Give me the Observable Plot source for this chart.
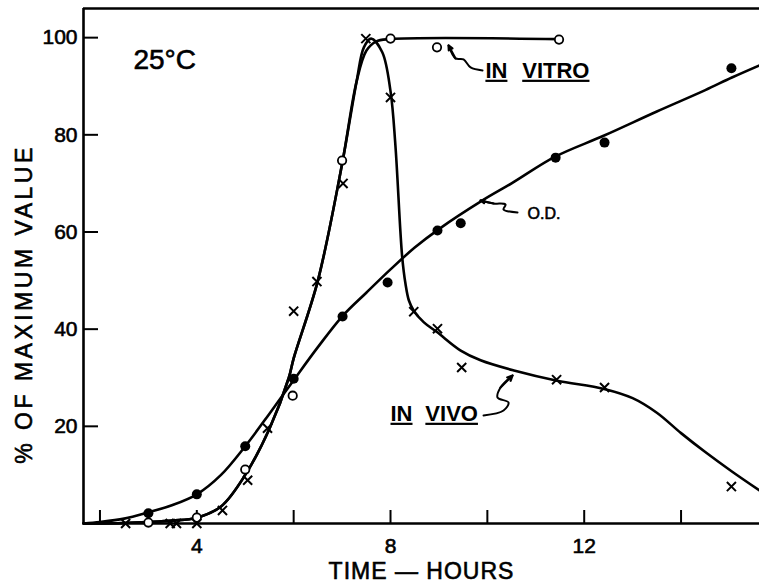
<!DOCTYPE html>
<html><head><meta charset="utf-8">
<script src="https://cdn.jsdelivr.net/npm/d3@7"></script>
<script src="https://cdn.jsdelivr.net/npm/@observablehq/plot@0.6"></script>
<style>html,body{margin:0;padding:0;background:#fff}#chart svg{display:block}</style>
</head><body><div id="chart"></div>
<script>
// ---- measured points ----
const odT = [3.0, 4.0, 5.0, 6.0, 7.01, 7.94, 8.97, 9.45, 11.41, 12.42, 15.04];
const odV = [2.1, 6.0, 15.9, 29.8, 42.6, 49.6, 60.3, 61.8, 75.3, 78.4, 93.7];
const vitroT = [3.0, 4.0, 5.0, 5.98, 7.0, 8.0, 8.96, 11.48];
const vitroV = [0.2, 1.2, 11.1, 26.3, 74.7, 99.8, 98.0, 99.6];
const vivoT = [2.53, 3.45, 3.58, 4.0, 4.53, 5.05, 5.46, 6.0, 6.48, 7.02, 7.49, 8.0, 8.48, 8.97, 9.47, 11.43, 12.42, 15.04];
const vivoV = [0.0, 0.0, 0.0, 0.0, 2.7, 8.9, 19.6, 43.7, 49.8, 70.0, 99.8, 87.7, 43.6, 40.1, 32.1, 29.6, 28.0, 7.6];

// ---- hand-drawn fitted curves ----
const odCurveT = [1.66, 2.0, 2.5, 3.0, 3.5, 4.0, 4.5, 5.0, 5.5, 6.0, 6.5, 7.0, 7.5, 8.0, 8.5, 9.0, 9.9, 10.5, 11.4, 12.4, 13.5, 14.5, 15.05, 15.62];
const odCurveV = [0, 0.3, 1.0, 2.3, 3.8, 6.0, 10.0, 15.9, 22.6, 29.5, 36.3, 42.6, 47.5, 52.3, 56.8, 60.6, 66.5, 70.0, 75.5, 79.8, 84.8, 89.2, 91.8, 94.3];
const vivoCurveT = [1.66, 2.5, 3.0, 3.5, 4.0, 4.5, 5.0, 5.5, 5.9, 6.0, 6.5, 7.0, 7.3, 7.45, 7.6, 7.83, 8.0, 8.1, 8.24, 8.31, 8.38, 8.48, 8.69, 8.96, 9.45, 9.86, 10.55, 11.44, 12.41, 13.0, 13.5, 14.0, 14.5, 15.05, 15.62];
const vivoCurveV = [0, 0.1, 0.3, 0.6, 1.2, 3.5, 10.0, 19.5, 30.0, 34.0, 50.0, 74.0, 91.0, 98.0, 99.8, 97.0, 89.0, 78.0, 55.0, 49.3, 45.9, 43.8, 41.4, 39.4, 35.6, 33.6, 31.5, 29.4, 27.7, 25.8, 22.8, 18.6, 14.7, 10.7, 6.8];
const vitroCurveT = [1.66, 2.5, 3.0, 3.5, 4.0, 4.5, 5.0, 5.5, 5.9, 6.0, 6.5, 7.0, 7.3, 7.5, 7.7, 8.0, 11.48];
const vitroCurveV = [0, 0.1, 0.3, 0.6, 1.2, 3.5, 10.0, 19.5, 30.0, 34.0, 50.0, 74.0, 91.0, 97.3, 99.2, 99.7, 99.7];

// ---- axes ----
const xDomain = [1.66, 15.62];
const yDomain = [0, 106];
const xTicks = [2, 4, 6, 8, 10, 12, 14];
const xTickLabels = [4, 8, 12];
const yTicks = [20, 40, 60, 80, 100];
const xTitle = "TIME — HOURS";
const yTitle = "% OF MAXIMUM VALUE";

// ---- annotations ----
const tempLabel = [{t: 2.69, v: 95.3, s: "25°C"}];
const underlinedWords = [
  {t: 9.96, v: 93.2, s: "IN"}, {t: 10.72, v: 93.2, s: "VITRO"},
  {t: 8.0, v: 22.6, s: "IN"}, {t: 8.72, v: 22.6, s: "VIVO"}
];
const odLabel = [{t: 10.83, v: 63.8, s: "O.D."}];
// squiggly leader lines, tail first, tip last
const vitroLeaderT = [9.90, 9.653, 9.508, 9.343, 9.198];
const vitroLeaderV = [93.25, 93.87, 95.51, 95.72, 98.39];
const odLeaderT = [10.623, 10.334, 10.375, 10.128, 9.859];
const odLeaderV = [64.02, 64.64, 65.67, 65.87, 66.49];
const vivoLeaderT = [9.921, 10.334, 10.437, 10.210, 10.272, 10.520];
const vivoLeaderV = [22.23, 23.26, 24.91, 25.94, 27.99, 30.47];

const zip = (a, b) => a.map((d, i) => ({t: d, v: b[i]}));
const od = zip(odT, odV), vitro = zip(vitroT, vitroV), vivo = zip(vivoT, vivoV);
const odC = zip(odCurveT, odCurveV), vivoC = zip(vivoCurveT, vivoCurveV), vitroC = zip(vitroCurveT, vitroCurveV);
const leaders = [zip(vitroLeaderT, vitroLeaderV), zip(odLeaderT, odLeaderV), zip(vivoLeaderT, vivoLeaderV)];
const heads = leaders.map(L => ({t1: L[L.length - 2].t, v1: L[L.length - 2].v, t2: L[L.length - 1].t, v2: L[L.length - 1].v}));

const lineW = 2.6;
const chart = Plot.plot({
  width: 759, height: 587,
  marginLeft: 83, marginRight: 0, marginTop: 8, marginBottom: 64,
  x: {domain: xDomain},
  y: {domain: yDomain},
  style: {fontFamily: "'Liberation Sans', Arial, sans-serif", fontSize: "21px", color: "#000", background: "#fff", overflow: "visible"},
  marks: [
    Plot.ruleX([xDomain[0]], {strokeWidth: 2.6}),
    Plot.ruleY([yDomain[0]], {strokeWidth: 2.6}),
    Plot.ruleY([yDomain[1]], {strokeWidth: 2.6}),
    Plot.axisX(xTicks, {tickSize: -13, strokeWidth: 2, fill: "none", label: null}),
    Plot.axisX(xTickLabels, {tickSize: 0, tickPadding: 15, label: null, fontSize: 21, ariaDescription: "heavy"}),
    Plot.axisY(yTicks, {tickSize: -15, strokeWidth: 2, fill: "none", label: null}),
    Plot.axisY(yTicks, {tickSize: 0, tickPadding: 6, label: null, fontSize: 21, ariaDescription: "heavy"}),
    Plot.line(odC, {x: "t", y: "v", curve: "catmull-rom", strokeWidth: lineW}),
    Plot.line(vivoC, {x: "t", y: "v", curve: "catmull-rom", strokeWidth: lineW}),
    Plot.line(vitroC, {x: "t", y: "v", curve: "catmull-rom", strokeWidth: lineW}),
    Plot.dot(vitro, {x: "t", y: "v", r: 4.2, stroke: "#000", strokeWidth: 1.8, fill: "#fff"}),
    Plot.dot(od, {x: "t", y: "v", r: 5, fill: "#000", stroke: "none"}),
    Plot.dot(vivo, {x: "t", y: "v", symbol: "times", r: 4.2, stroke: "#000", strokeWidth: 2}),
    Plot.text(tempLabel, {x: "t", y: "v", text: "s", textAnchor: "start", fontSize: 28, ariaDescription: "heavy"}),
    Plot.text(underlinedWords, {x: "t", y: "v", text: "s", textAnchor: "start", fontSize: 22, fontWeight: "bold", ariaDescription: "underlined"}),
    Plot.text(odLabel, {x: "t", y: "v", text: "s", textAnchor: "start", fontSize: 16, ariaDescription: "heavy"}),
    ...leaders.map(L => Plot.line(L, {x: "t", y: "v", curve: "catmull-rom", strokeWidth: 2})),
    Plot.arrow(heads, {x1: "t1", y1: "v1", x2: "t2", y2: "v2", headLength: 9, headAngle: 50, strokeWidth: 2.2}),
    Plot.text([xTitle], {frameAnchor: "bottom", dy: 55.5, fontSize: 23, ariaDescription: "xtitle"}),
    Plot.text([yTitle], {frameAnchor: "left", textAnchor: "middle", rotate: -90, dx: -58.5, dy: 38, fontSize: 23, ariaDescription: "ytitle"})
  ]
});
document.getElementById("chart").appendChild(chart);
const svg = d3.select(chart);
svg.selectAll('g[aria-description="underlined"] text')
  .style("text-decoration", "underline")
  .style("text-decoration-thickness", "2.5px")
  .style("text-underline-offset", "3px");
svg.selectAll('g[aria-description="ytitle"] text').style("letter-spacing", "3.5px");
svg.selectAll('g[aria-description="xtitle"] text').style("letter-spacing", "1px");
svg.selectAll('g[aria-description="heavy"] text, g[aria-description="xtitle"] text, g[aria-description="ytitle"] text')
  .attr("stroke", "#000").attr("stroke-width", 0.6);
</script>
</body></html>
